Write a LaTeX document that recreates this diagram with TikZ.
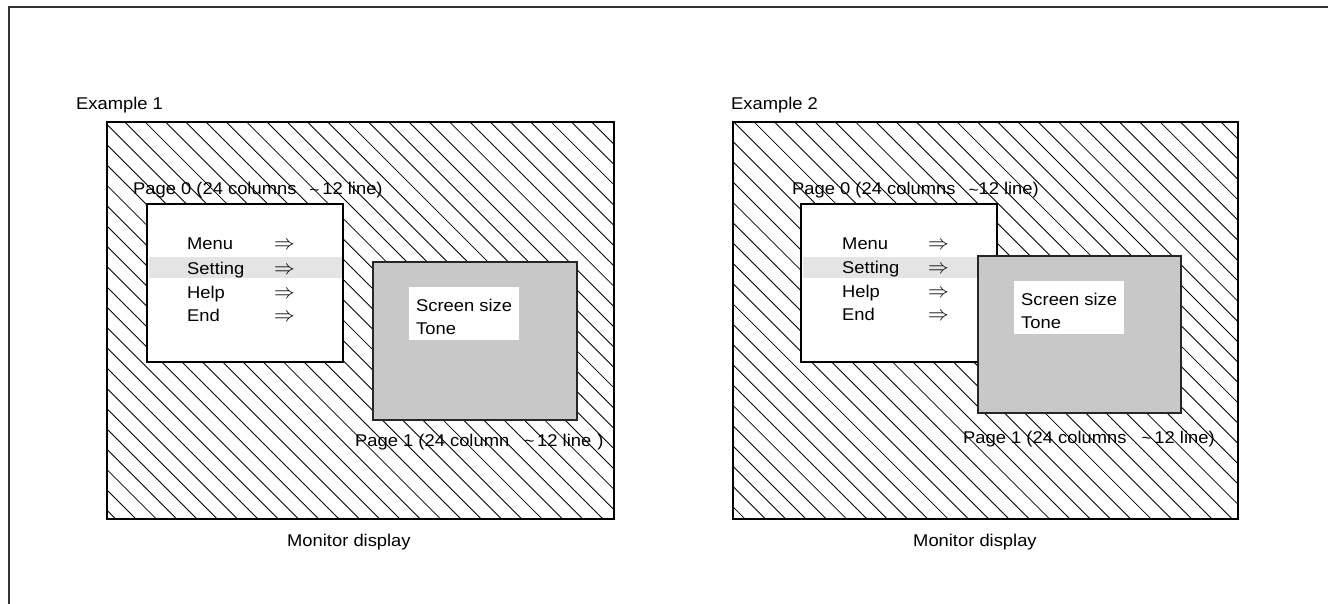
\documentclass[tikz,border=0pt]{standalone}
\usepackage{fontspec}
\setmainfont{Liberation Sans}[FakeStretch=1.08]
\definecolor{subgray}{HTML}{C8C8C8}
\definecolor{barGray}{HTML}{E4E4E4}
\definecolor{frameGray}{HTML}{333333}
\newcommand{\smtilde}{{\fontsize{16}{16}\selectfont\raisebox{-0.8pt}{\textasciitilde}}}
\tikzset{
  lbl/.style={anchor=base west, inner sep=0pt, font=\fontsize{17}{20}\selectfont},
  arrowlbl/.style={anchor=base west, inner sep=0pt, font=\fontsize{20}{20}\selectfont},
  monitorbox/.style={draw=black, line width=2.5pt},
  hatchline/.style={line width=0.85pt, black},
  pagebox/.style={draw=black, line width=2.6pt, fill=white},
  subbox/.style={draw=black!85, line width=2.6pt, fill=subgray},
  whitebox/.style={fill=white, draw=none},
  hibar/.style={fill=barGray, draw=none},
}
\begin{document}
\begin{tikzpicture}[x=1pt,y=-1pt]
\useasboundingbox (0,0) rectangle (1328,604);
% outer frame (top and left only)
\draw[frameGray, line width=2pt] (1328,7) -- (9,7) -- (9,604);

% ===== Example 1 =====
\node[lbl] (ex1) at (76,110) {Example 1};
\begin{scope}
  \clip (107,122) rectangle (614,519);
  \foreach \k in {-41,...,7} {
    \pgfmathsetmacro{\c}{301.7+20.3*\k}
    \draw[hatchline] (100,{100+\c}) -- (620,{620+\c});
  }
\end{scope}
\draw[monitorbox] (107,122) rectangle (614,519);
\node[lbl] (p0a) at (133,195) {Page 0 (24 columns\hspace{13pt}\smtilde\,12 line)};
\draw[pagebox] (147,204) rectangle (343,362);
\fill[hibar] (148.5,257) rectangle (341.5,278);
\node[lbl] (m1a) at (187,250) {Menu};
\node[lbl] (m2a) at (187,274) {Setting};
\node[lbl] (m3a) at (187,298) {Help};
\node[lbl] (m4a) at (187,321) {End};
\foreach \y/\n in {250/1,274/2,298/3,321/4}
  \node[arrowlbl] (ar\n a) at (274,\y) {$\Rightarrow$};
\draw[subbox] (373,262) rectangle (577,420);
\fill[whitebox] (409,287) rectangle (519,340);
\node[lbl] (s1a) at (416,311) {Screen size};
\node[lbl] (s2a) at (416,334) {Tone};
\node[lbl] (p1a) at (355,446) {Page 1 (24 column\hspace{15pt}\smtilde\,12 line\hspace{6pt})};
\node[lbl] (mda) at (287,546) {Monitor display};

% ===== Example 2 =====
\node[lbl] (ex2) at (731,110) {Example 2};
\begin{scope}
  \clip (733,122) rectangle (1238,519);
  \foreach \k in {-69,...,-23} {
    \pgfmathsetmacro{\c}{301.7+20.3*\k}
    \draw[hatchline] (725,{725+\c}) -- (1245,{1245+\c});
  }
\end{scope}
\draw[monitorbox] (733,122) rectangle (1238,519);
\node[lbl] (p0b) at (792,195) {Page 0 (24 columns\hspace{13pt}\smtilde12 line)};
\draw[pagebox] (801,204) rectangle (997,362);
\fill[hibar] (802.5,257) rectangle (990,278);
\node[lbl] (m1b) at (842,249) {Menu};
\node[lbl] (m2b) at (842,273) {Setting};
\node[lbl] (m3b) at (842,297) {Help};
\node[lbl] (m4b) at (842,320) {End};
\foreach \y/\n in {249/1,273/2,297/3,320/4}
  \node[arrowlbl] (ar\n b) at (928,\y) {$\Rightarrow$};
\draw[subbox] (978,256) rectangle (1181,413);
\fill[whitebox] (1014,281) rectangle (1124,334);
\node[lbl] (s1b) at (1021,305) {Screen size};
\node[lbl] (s2b) at (1021,328) {Tone};
\node[lbl] (p1b) at (963,443) {Page 1 (24 columns\hspace{15pt}\smtilde\,12 line)};
\node[lbl] (mdb) at (913,546) {Monitor display};
\end{tikzpicture}
\end{document}
